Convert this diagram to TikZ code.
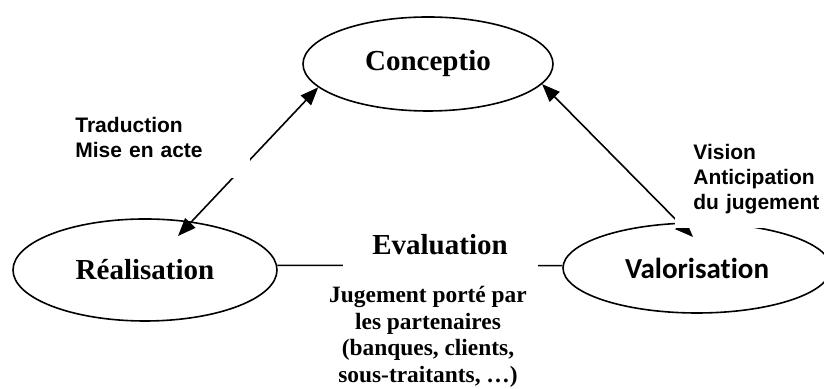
\documentclass[tikz,border=0pt]{standalone}
\usepackage{fontspec}
\setmainfont{Liberation Serif}
\newfontfamily\arialfont{Liberation Sans}
\newfontfamily\calibrifont[Ligatures=NoCommon]{Carlito}
\usetikzlibrary{shapes.geometric, arrows.meta, calc}

\tikzset{
  phase/.style={draw, ellipse, line width=0.8pt, inner sep=0pt,
    font=\fontsize{14.5}{17}\selectfont\bfseries},
  note/.style={fill=white, inner xsep=0pt, align=left,
    font=\arialfont\fontsize{10.5}{12.5}\selectfont\bfseries},
  link/.style={line width=0.8pt,
    {Triangle[length=9pt,width=7pt]}-{Triangle[length=9pt,width=7pt]}}
}

\begin{document}
\begin{tikzpicture}[x=0.5pt, y=0.5pt]
	\useasboundingbox (0,0) rectangle (824,389);

	% les trois poles
	\begin{scope}
		\node[phase, minimum width=125pt, minimum height=47pt] (conc) at (428,325) {Conceptio};
		\node[phase, minimum width=132pt, minimum height=51pt] (real) at (145,119) {Réalisation};
		\node[phase, minimum width=134pt, minimum height=45pt,
			font=\calibrifont\fontsize{14.5}{17}\selectfont\bfseries] (valo) at (697,121) {Valorisation};
	\end{scope}

	% liens
	\begin{scope}
		\coordinate (realtip) at ($(real.center)+(33,34)$);
		\coordinate (valotip) at ($(valo.center)+(-4,31)$);
		\draw[link] (realtip) -- (conc.192);
		\draw[link] (valotip) -- (conc.350);
		\draw[line width=0.8pt] (real.2) -- (valo.179);
	\end{scope}

	% textes
	\begin{scope}
		\node[fill=white, minimum width=97.5pt, minimum height=23pt, inner sep=0pt,
			font=\fontsize{14.5}{17}\selectfont\bfseries] (eval) at (440,144) {Evaluation};
		\node[align=center, inner sep=0pt,
			font=\fontsize{11.7}{13.3}\selectfont\bfseries] (jug) at (428,52)
			{Jugement porté par\\les partenaires\\(banques, clients,\\sous-traitants, …)};
		\node[note, text width=87.5pt, inner ysep=10pt, anchor=south west] (trad) at (75,211)
			{Traduction\\Mise en acte};
		\node[note, text width=66pt, inner xsep=9pt, inner ysep=7pt, anchor=south west] (vis) at (675,161)
			{Vision\\Anticipation\\du jugement};
	\end{scope}
\end{tikzpicture}
\end{document}
